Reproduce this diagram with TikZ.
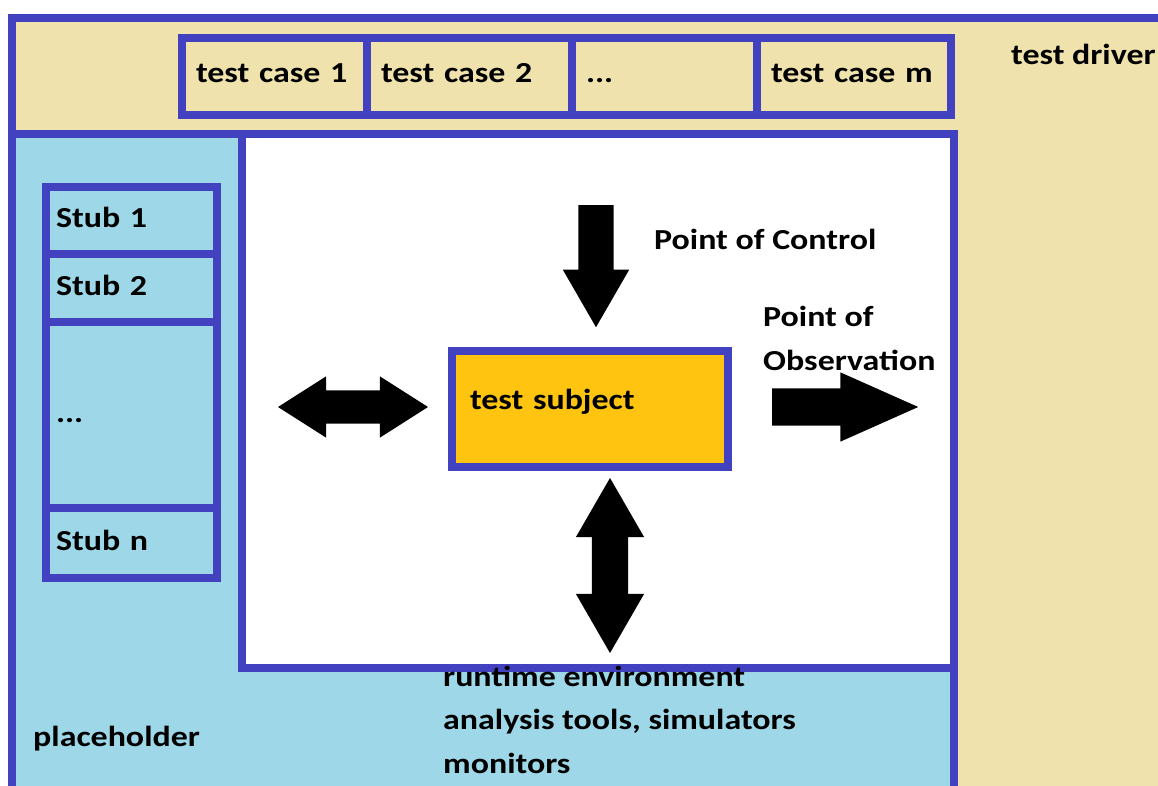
\documentclass[tikz,border=0pt]{standalone}
\usepackage{fontspec}
\setmainfont{Carlito}[FakeStretch=1.17]
\usetikzlibrary{shapes.arrows,positioning}

\definecolor{frameblue}{RGB}{66,66,192}
\definecolor{drivertan}{RGB}{239,226,172}
\definecolor{envblue}{RGB}{157,215,232}
\definecolor{subjorange}{RGB}{254,196,16}

\begin{document}
\begin{tikzpicture}[
    x=1pt, y=-1pt,
    every node/.style={font=\bfseries\fontsize{29}{43.5}\selectfont, text=black},
    frame/.style={draw=frameblue, line width=8pt},
    casebox/.style={frame, fill=drivertan, minimum height=76.5pt, inner xsep=14pt, inner ysep=0pt,
                    text width=#1, align=left, text height=20pt, text depth=8pt},
    stubbox/.style={frame, fill=envblue, inner xsep=10.5pt, inner ysep=0pt, text width=150.5pt,
                    align=left, text height=20pt, text depth=6pt},
    bigarrow/.style={single arrow, fill=black, inner xsep=0pt, text height=0pt, text depth=0pt},
    bothways/.style={double arrow, fill=black, inner xsep=0pt, text height=0pt, text depth=0pt},
    plaintext/.style={anchor=base west, align=left, inner sep=0pt}
]
\useasboundingbox (0,0) rectangle (1158,786);
\clip (0,0) rectangle (1158,786);
\fill[white] (0,0) rectangle (1158,786);

% Test driver, environment and test area
\draw[frame, fill=drivertan] (12,18) rectangle (1170,800);
\draw[frame, fill=envblue] (12,134) rectangle (954,800);
\draw[frame, fill=white] (242,134) rectangle (954,668);

% Test cases
\node [casebox=157pt] (case1) at (274.5,76.75) {test case 1};
\node [casebox=177pt] (case2) at (469.5,76.75) {test case 2};
\node [casebox=157pt] (casedots) at (664.5,76.75) {...};
\node [casebox=166pt] (casem) at (854,76.75) {test case m};
\node [plaintext] (driver) at (1011,65) {test driver};

% Stubs
\node [stubbox, minimum height=67pt] (stub1) at (131.25,220.5) {Stub 1};
\node [stubbox, minimum height=68pt] (stub2) at (131.25,288) {Stub 2};
\node [stubbox, minimum height=186pt] (stubdots) at (131.25,415) {...};
\node [stubbox, minimum height=70pt] (stubn) at (131.25,543) {Stub n};

% Test subject
\node [frame, fill=subjorange, minimum height=116pt, inner xsep=18pt, inner ysep=0pt, text width=240pt,
       align=left, text height=22pt, text depth=22pt] (subject) at (590,409) {test subject};

% Arrows
\node [bigarrow, rotate=-90, anchor=tail, minimum height=122pt, inner ysep=17.5pt,
       single arrow head extend=15.5pt, single arrow tip angle=60] (control) at (596,205) {};
\node [bothways, minimum height=150pt, inner ysep=16.5pt,
       double arrow head extend=14pt, double arrow tip angle=65] (stubarrow) at (353,407) {};
\node [bigarrow, anchor=tail, minimum height=146pt, inner ysep=18.5pt,
       single arrow head extend=16pt, single arrow tip angle=48] (observe) at (772,407) {};
\node [bothways, rotate=90, minimum height=175pt, inner ysep=18pt,
       double arrow head extend=16pt, double arrow tip angle=60] (envarrow) at (610,565.5) {};

% Labels
\node [plaintext] (controltext) at (654,250) {Point of Control};
\node [plaintext] (observetext) at (763,370) {Point of\\Observation};
\node [plaintext] (envtext) at (443,773) {runtime environment\\analysis tools, simulators\\monitors};
\node [plaintext] (placeholder) at (33,746) {placeholder};

\end{tikzpicture}
\end{document}
